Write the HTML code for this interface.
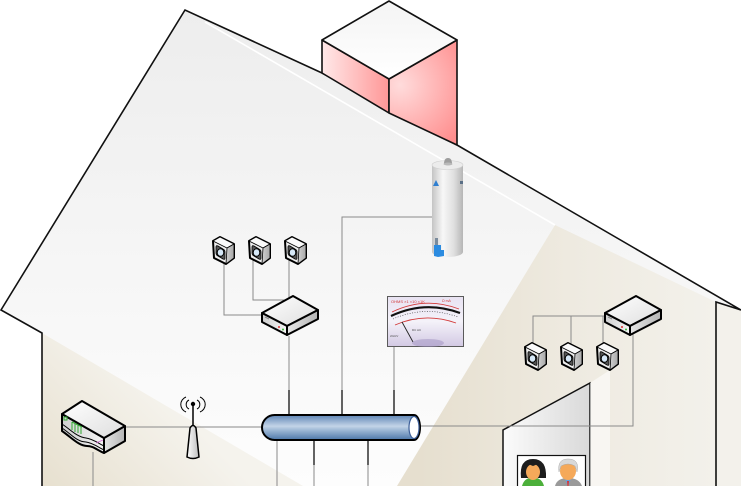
<!DOCTYPE html>
<html>
<head>
<meta charset="utf-8">
<style>
html,body{margin:0;padding:0;background:#fff;}
svg{display:block;}
</style>
</head>
<body>
<svg width="741" height="486" viewBox="0 0 741 486" xmlns="http://www.w3.org/2000/svg">
<defs>
  <linearGradient id="roof" x1="0" y1="10" x2="0" y2="486" gradientUnits="userSpaceOnUse">
    <stop offset="0" stop-color="#ededed"/>
    <stop offset="0.55" stop-color="#f6f6f6"/>
    <stop offset="1" stop-color="#fdfdfd"/>
  </linearGradient>
  <linearGradient id="beigeL" x1="42" y1="486" x2="150" y2="380" gradientUnits="userSpaceOnUse">
    <stop offset="0" stop-color="#e7e0cf"/>
    <stop offset="1" stop-color="#f5f3ed"/>
  </linearGradient>
  <linearGradient id="beigeR" x1="420" y1="0" x2="716" y2="0" gradientUnits="userSpaceOnUse">
    <stop offset="0" stop-color="#e6dfcf"/>
    <stop offset="0.5" stop-color="#eeeae0"/>
    <stop offset="1" stop-color="#f3f1eb"/>
  </linearGradient>
  <linearGradient id="pinkL" x1="322" y1="0" x2="389" y2="0" gradientUnits="userSpaceOnUse">
    <stop offset="0" stop-color="#ffe9e9"/>
    <stop offset="1" stop-color="#ff9797"/>
  </linearGradient>
  <radialGradient id="pinkR" cx="400" cy="85" r="75" gradientUnits="userSpaceOnUse">
    <stop offset="0" stop-color="#ffdcdc"/>
    <stop offset="1" stop-color="#ff8e8e"/>
  </radialGradient>
  <linearGradient id="chimTop" x1="0" y1="1" x2="0" y2="79" gradientUnits="userSpaceOnUse">
    <stop offset="0" stop-color="#f4f4f4"/>
    <stop offset="1" stop-color="#ffffff"/>
  </linearGradient>
  <linearGradient id="pipe" x1="0" y1="415" x2="0" y2="440" gradientUnits="userSpaceOnUse">
    <stop offset="0" stop-color="#5f86b6"/>
    <stop offset="0.45" stop-color="#c3d4e7"/>
    <stop offset="0.6" stop-color="#9fb9d6"/>
    <stop offset="1" stop-color="#4c76a9"/>
  </linearGradient>
  <linearGradient id="boxTop" x1="0" y1="0" x2="1" y2="1">
    <stop offset="0" stop-color="#ffffff"/>
    <stop offset="1" stop-color="#dedede"/>
  </linearGradient>
  <linearGradient id="boxSide" x1="0" y1="0" x2="1" y2="0">
    <stop offset="0" stop-color="#e6e6e6"/>
    <stop offset="1" stop-color="#b5b5b5"/>
  </linearGradient>
  <linearGradient id="boxFront" x1="0" y1="0" x2="1" y2="0">
    <stop offset="0" stop-color="#cfcfcf"/>
    <stop offset="1" stop-color="#f4f4f4"/>
  </linearGradient>
  <linearGradient id="heater" x1="432" y1="0" x2="463" y2="0" gradientUnits="userSpaceOnUse">
    <stop offset="0" stop-color="#c4c4c4"/>
    <stop offset="0.35" stop-color="#f7f7f7"/>
    <stop offset="0.7" stop-color="#e0e0e0"/>
    <stop offset="1" stop-color="#b6b6b6"/>
  </linearGradient>
  <linearGradient id="door" x1="503" y1="0" x2="590" y2="0" gradientUnits="userSpaceOnUse">
    <stop offset="0" stop-color="#fbfbfb"/>
    <stop offset="1" stop-color="#d9d9d9"/>
  </linearGradient>
  <linearGradient id="meter" x1="0" y1="296" x2="0" y2="347" gradientUnits="userSpaceOnUse">
    <stop offset="0" stop-color="#e8e2f2"/>
    <stop offset="0.5" stop-color="#f4f2f9"/>
    <stop offset="1" stop-color="#d2c8e3"/>
  </linearGradient>
  <linearGradient id="ant" x1="0" y1="0" x2="1" y2="0">
    <stop offset="0" stop-color="#ffffff"/>
    <stop offset="1" stop-color="#bdbdbd"/>
  </linearGradient>
  <linearGradient id="camSide" x1="0" y1="0" x2="1" y2="0">
    <stop offset="0" stop-color="#d0d0d0"/>
    <stop offset="1" stop-color="#a8a8a8"/>
  </linearGradient>

  <g id="cam" stroke="#000" stroke-linejoin="round">
    <path d="M0,4 L7,0 L21,7 L21,21 L13,27 L1,21 Z" fill="#eee" stroke-width="2"/>
    <path d="M0,4 L7,0 L21,7 L14,11 Z" fill="#fafafa" stroke-width="0.8"/>
    <path d="M14,11 L21,7 L21,21 L13,27 Z" fill="url(#camSide)" stroke-width="0.8"/>
    <path d="M3,10 Q3,8 5,9 L10,12 Q12,13 12,15 L12,21 Q12,23 10,22 L5,19 Q3,18 3,16 Z" fill="#555" stroke-width="0.8"/>
    <ellipse cx="7.5" cy="15.5" rx="3.3" ry="3.8" fill="#d6e8f7" stroke-width="1"/>
  </g>

  <g id="nvr" stroke="#000" stroke-linejoin="round">
    <path d="M0,17 L31,0 L56,14 L25,30 Z" fill="url(#boxTop)" stroke-width="2"/>
    <path d="M0,17 L25,30 L25,39 L0,26 Z" fill="url(#boxFront)" stroke-width="2"/>
    <path d="M25,30 L56,14 L56,23 L25,39 Z" fill="url(#boxSide)" stroke-width="2"/>
    <circle cx="17" cy="31" r="1" fill="#d33" stroke="none"/>
    <circle cx="21" cy="33.5" r="1" fill="#3b3" stroke="none"/>
    <path d="M3,21 L7,23" stroke="#888" stroke-width="1"/>
  </g>
</defs>

<rect width="741" height="486" fill="#fff"/>

<!-- house body / roof face -->
<path d="M185,10 L322,73 L457,145 L741,310 L741,486 L42,486 L42,333 L1,310 Z" fill="url(#roof)"/>
<!-- beige wall areas -->
<path d="M42,333 L303,486 L42,486 Z" fill="url(#beigeL)"/>
<path d="M555,225 L716,302 L716,486 L397,486 Z" fill="url(#beigeR)"/>
<path d="M716,302 L741,310 L741,486 L716,486 Z" fill="#f3f1eb"/>
<!-- roof edge highlight -->
<path d="M205,22 L555,225" stroke="#ffffff" stroke-width="1.6" fill="none"/>

<!-- house outline -->
<path d="M42,486 L42,333 L1,310 L185,10 L322,73 L457,145 L741,310 L716,302 L716,486" fill="none" stroke="#111" stroke-width="1.6" stroke-linejoin="miter"/>

<!-- chimney -->
<g stroke="#111" stroke-width="1.6" stroke-linejoin="round">
  <path d="M322,40 L389,79 L389,113 L322,73 Z" fill="url(#pinkL)"/>
  <path d="M389,79 L457,40 L457,145 L389,113 Z" fill="url(#pinkR)"/>
  <path d="M322,40 L389,1 L457,40 L389,79 Z" fill="url(#chimTop)"/>
</g>

<!-- door panel -->
<path d="M503,486 L503,430 L590,383 L590,486" fill="url(#door)" stroke="#111" stroke-width="1.5"/>
<path d="M590,383 L610,370 L610,486 L590,486 Z" fill="#ffffff" opacity="0.55"/>

<!-- connectors (gray) -->
<g stroke="#8a8a8a" stroke-width="1" fill="none">
  <path d="M224,258 L224,315 L264,315"/>
  <path d="M253,258 L253,300 L287,300"/>
  <path d="M289,258 L289,299"/>
  <path d="M289,336 L289,390"/>
  <path d="M433,217 L342,217 L342,390"/>
  <path d="M394,347 L394,390"/>
  <path d="M125,427 L262,427"/>
  <path d="M93,452 L93,486"/>
  <path d="M277,440 L277,486"/>
  <path d="M314,465 L314,486"/>
  <path d="M368,465 L368,486"/>
  <path d="M420,426 L633,426 L633,334"/>
  <path d="M533,350 L533,316 L607,316"/>
  <path d="M571,350 L571,316"/>
  <path d="M603,350 L603,316"/>
</g>
<!-- dark connector segments near pipe -->
<g stroke="#222" stroke-width="1.4">
  <path d="M289,390 L289,415"/>
  <path d="M342,390 L342,415"/>
  <path d="M394,390 L394,415"/>
  <path d="M314,440 L314,465"/>
  <path d="M368,440 L368,465"/>
</g>

<!-- pipe -->
<path d="M274.5,415 L414,415 A6,12.5 0 0 1 414,440 L274.5,440 A12.5,12.5 0 0 1 274.5,415 Z" fill="url(#pipe)" stroke="#000" stroke-width="2"/>
<ellipse cx="414" cy="427.5" rx="5" ry="11" fill="#ffffff" stroke="#3d5f99" stroke-width="1.2"/>

<!-- modem -->
<g stroke="#000" stroke-width="2" stroke-linejoin="round">
  <path d="M62,414 L104,438 L104,453 C97,450 93,446 87,446 C79,446 72,438 62,431 Z" fill="url(#boxFront)"/>
  <path d="M104,438 L125,426 L125,441 L104,453 Z" fill="url(#boxSide)"/>
  <path d="M62,414 L82,401 L125,426 L104,438 Z" fill="url(#boxTop)"/>
  <path d="M62,424 C71,430 77,437 86,438 C93,439 98,443 104,446" fill="none" stroke-width="1"/>
  <path d="M62,428 C71,434 77,442 86,442 C93,443 98,447 104,450" fill="none" stroke-width="1"/>
</g>
<g stroke="#2fa82f" stroke-width="1" fill="none">
  <rect x="64" y="417" width="3" height="3"/>
  <path d="M72,422 L72,430 M75,424 L75,432 M78,425 L78,433 M81,427 L81,434 M72,422 L82,427"/>
</g>
<path d="M96,443 L103,440" stroke="#d46bd4" stroke-width="0.8"/>

<!-- antenna -->
<g stroke="#000" stroke-width="1.5" fill="none">
  <path d="M187,457 L190,428 Q193,423 196,428 L199,457 Q193,460 187,457 Z" fill="url(#ant)"/>
  <path d="M193,425 L193,405"/>
  <path d="M189,400 A5,5 0 0 0 189,409" stroke-width="1"/>
  <path d="M186,397 A8,8 0 0 0 186,412" stroke-width="1"/>
  <path d="M197,400 A5,5 0 0 1 197,409" stroke-width="1"/>
  <path d="M200,397 A8,8 0 0 1 200,412" stroke-width="1"/>
</g>
<circle cx="193" cy="404" r="2.2" fill="#000"/>

<!-- cameras -->
<use href="#cam" x="213" y="237"/>
<use href="#cam" x="249" y="237"/>
<use href="#cam" x="285" y="237"/>
<use href="#cam" x="525" y="343"/>
<use href="#cam" x="561" y="343"/>
<use href="#cam" x="597" y="343"/>

<!-- routers -->
<use href="#nvr" x="262" y="296"/>
<use href="#nvr" x="605" y="296"/>

<!-- water heater -->
<g>
  <path d="M432,165 L432,252 A15.5,5 0 0 0 463,252 L463,165 Z" fill="url(#heater)"/>
  <ellipse cx="447.5" cy="165" rx="15.5" ry="4.5" fill="#ececec" stroke="#cfcfcf" stroke-width="0.6"/>
  <path d="M444,164 Q444,158 448,158 Q452,158 452,164 Z" fill="#9d9d9d"/>
  <ellipse cx="448" cy="164" rx="4.5" ry="1.5" fill="#b9b9b9"/>
  <path d="M433,186 L436,180 L439,186 Z" fill="#2f7fd0"/>
  <rect x="460" y="181" width="3" height="3" fill="#5a6f86"/>
  <rect x="435" y="238" width="3" height="7" fill="#7a8b9c"/>
  <path d="M434,245 L441,245 L441,250 L444,250 L444,256 L438,257 L434,256 Z" fill="#2b8be0"/>
</g>

<!-- meter -->
<g>
  <rect x="387.5" y="296.5" width="76" height="50" fill="url(#meter)" stroke="#5a5a5a" stroke-width="1"/>
  <text x="391" y="303" font-family="Liberation Sans, sans-serif" font-size="4" fill="#d23a3a">OHMS ×1 ×10 ×1K</text>
  <text x="442" y="302" font-family="Liberation Sans, sans-serif" font-size="3.5" fill="#d23a3a">Ω mA</text>
  <path d="M392,312 Q425,296 459,309" stroke="#d23a3a" stroke-width="0.8" fill="none"/>
  <path d="M391,316 Q425,300 460,313" stroke="#111" stroke-width="2.2" fill="none"/>
  <path d="M393,319 Q425,305 458,317" stroke="#333" stroke-width="0.6" fill="none" stroke-dasharray="1 1.5"/>
  <path d="M395,325 Q425,312 456,323" stroke="#d23a3a" stroke-width="0.9" fill="none"/>
  <text x="412" y="331" font-family="Liberation Sans, sans-serif" font-size="3" fill="#444">DC AC</text>
  <text x="390" y="337" font-family="Liberation Sans, sans-serif" font-size="2.5" fill="#555">20kΩ/V</text>
  <path d="M402,322 L413,342" stroke="#222" stroke-width="0.9"/>
  <ellipse cx="428" cy="343" rx="16" ry="4" fill="#9e8fc0" opacity="0.5"/>
</g>

<!-- photo frame -->
<g>
  <rect x="517.5" y="455.5" width="68" height="34" fill="#fff" stroke="#111" stroke-width="1.2"/>
  <!-- woman -->
  <path d="M522,486 Q524,478 533,477 Q542,478 544,486 Z" fill="#4caf3a"/>
  <path d="M521,478 Q519,459 533,459 Q547,459 546,478 Z" fill="#1d1d1d"/>
  <ellipse cx="533" cy="472" rx="7" ry="8" fill="#f5a95a"/>
  <path d="M525,468 Q527,460 533,461 Q540,460 542,468 L538,464 L533,466 L528,464 Z" fill="#1d1d1d"/>
  <!-- man -->
  <path d="M555,486 Q557,478 568,478 Q579,478 582,486 Z" fill="#9a9a9a"/>
  <path d="M565,479 L571,479 L568,486 Z" fill="#6aa0d8"/>
  <path d="M567,481 L569,481 L568.5,486 L567.5,486 Z" fill="#d33"/>
  <ellipse cx="568" cy="471" rx="8" ry="9" fill="#f5a95a"/>
  <path d="M559,472 Q557,459 568,459 Q580,459 577,472 L575,466 Q568,462 561,466 Z" fill="#d9d9d9" stroke="#aaa" stroke-width="0.5"/>
</g>
</svg>
</body>
</html>
